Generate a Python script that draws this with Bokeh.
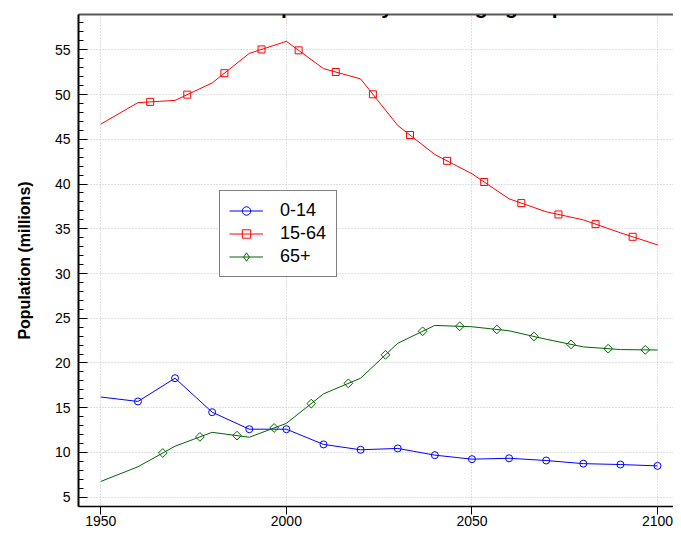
import numpy as np
from bokeh.plotting import figure
from bokeh.models import (Range1d, FixedTicker, SingleIntervalTicker, LinearAxis,
                          Legend, LegendItem, Label)
from bokeh.embed import file_html
from bokeh.resources import INLINE

# ---------------- data ----------------
title_text = "Total Population by broad age group"
y_label = "Population (millions)"
series_names = ["0-14", "15-64", "65+"]

years = [1950, 1960, 1970, 1980, 1990, 2000, 2010, 2020,
         2030, 2040, 2050, 2060, 2070, 2080, 2090, 2100]
pop_0_14 = [16.2, 15.7, 18.3, 14.5, 12.6, 12.6, 10.9, 10.3,
            10.45, 9.7, 9.25, 9.35, 9.1, 8.75, 8.65, 8.5]
pop_15_64 = [46.7, 49.1, 49.35, 51.3, 54.6, 55.95, 52.9, 51.75,
             46.55, 43.3, 41.15, 38.35, 36.9, 36.0, 34.55, 33.2]
pop_65_plus = [6.76, 8.4, 10.7, 12.25, 11.7, 13.25, 16.55, 18.3,
               22.2, 24.2, 24.05, 23.6, 22.65, 21.8, 21.5, 21.45]

# years at which the point symbols sit on each line
marker_years_0_14 = [1960, 1970, 1980, 1990, 2000, 2010, 2020, 2030,
                     2040, 2050, 2060, 2070, 2080, 2090, 2100]
marker_years_15_64 = [1963.3, 1973.3, 1983.3, 1993.3, 2003.3, 2013.3, 2023.3,
                      2033.3, 2043.3, 2053.3, 2063.3, 2073.3, 2083.3, 2093.3]
marker_years_65_plus = [1966.7, 1976.7, 1986.7, 1996.7, 2006.7, 2016.7, 2026.7,
                        2036.7, 2046.7, 2056.7, 2066.7, 2076.7, 2086.7, 2096.7]

x_ticks = [1950, 2000, 2050, 2100]
y_tick_interval = 5

# ---------------- style ----------------
FONT = "Liberation Sans"
colors = ["#0000ff", "#ff0000", "#006400"]

x_range = Range1d(1943.99, 2104.3)
y_range = Range1d(3.96, 58.95)

p = figure(width=673, height=532, x_range=x_range, y_range=y_range,
           output_backend="svg", toolbar_location=None,
           min_border_left=78, min_border_right=0,
           min_border_top=14, min_border_bottom=26)
p.outline_line_color = None
p.background_fill_color = "white"
p.border_fill_color = "white"

# x axis
xax = p.xaxis[0]
xax.ticker = FixedTicker(ticks=x_ticks, minor_ticks=[])
xax.axis_line_color = "black"
xax.axis_line_width = 1.5
xax.major_tick_line_color = "black"
xax.major_tick_in = 0
xax.major_tick_out = 8
xax.minor_tick_line_color = None
xax.major_label_standoff = 1
xax.major_label_text_font = FONT
xax.major_label_text_font_size = "14px"
xax.major_label_text_color = "black"

# y axis
yax = p.yaxis[0]
yax.ticker = SingleIntervalTicker(interval=y_tick_interval, num_minor_ticks=5)
yax.axis_line_color = "black"
yax.axis_line_width = 2
yax.major_tick_line_color = "black"
yax.minor_tick_line_color = "black"
yax.major_tick_in = 9
yax.major_tick_out = 0
yax.minor_tick_in = 5
yax.minor_tick_out = 0
yax.major_label_standoff = 8
yax.major_label_text_font = FONT
yax.major_label_text_font_size = "14px"
yax.major_label_text_color = "black"
yax.axis_label = y_label
yax.axis_label_text_font = FONT
yax.axis_label_text_font_size = "16px"
yax.axis_label_text_font_style = "bold"
yax.axis_label_text_color = "black"
yax.axis_label_standoff = 19

# top frame line
top = LinearAxis(ticker=FixedTicker(ticks=[], minor_ticks=[]),
                 axis_line_color="#5a5a5a", axis_line_width=2,
                 major_tick_line_color=None, minor_tick_line_color=None,
                 major_label_standoff=0, major_label_text_font_size="0px")
p.add_layout(top, "above")

# grid
for g in (p.xgrid[0], p.ygrid[0]):
    g.grid_line_color = "#c0c0c0"
    g.grid_line_dash = "1 2"
    g.grid_line_width = 1

# ---------------- series ----------------
series = [pop_0_14, pop_15_64, pop_65_plus]
marker_years = [marker_years_0_14, marker_years_15_64, marker_years_65_plus]
markers = ["circle", "square", "square"]
sizes = [7, 7, 6.2]
angles = [0, 0, np.pi / 4]

items = []
for name, vals, myears, col, mk, sz, ang in zip(series_names, series, marker_years,
                                                 colors, markers, sizes, angles):
    lr = p.line(years, vals, line_color=col, line_width=1)
    my = np.interp(myears, years, vals)
    sr = p.scatter(myears, my, marker=mk, size=sz, angle=ang,
                   line_color=col, fill_color=None, line_width=1)
    if ang != 0:
        # legend symbol for the diamond series
        sr = p.scatter([np.nan], [np.nan], marker="diamond", size=9,
                       line_color=col, fill_color=None, line_width=1)
    items.append(LegendItem(label=name, renderers=[lr, sr]))

legend = Legend(items=items, location=(141, 229), margin=0, padding=9,
                spacing=2, glyph_width=34, glyph_height=21, label_height=21,
                label_width=47, label_standoff=17,
                label_text_font=FONT, label_text_font_size="18px",
                label_text_color="black",
                border_line_color="black", border_line_width=1.5,
                background_fill_color="white", background_fill_alpha=1.0)
p.add_layout(legend)

# title (its top lies above the picture's edge, as in the original)
title = Label(x=2025.8, y=y_range.end + 0.9,
              text=title_text, text_font=FONT, text_font_size="21px",
              text_font_style="bold", text_align="center",
              text_baseline="alphabetic", text_color="black")
p.add_layout(title)

open("out.html", "w").write(file_html(p, INLINE))
